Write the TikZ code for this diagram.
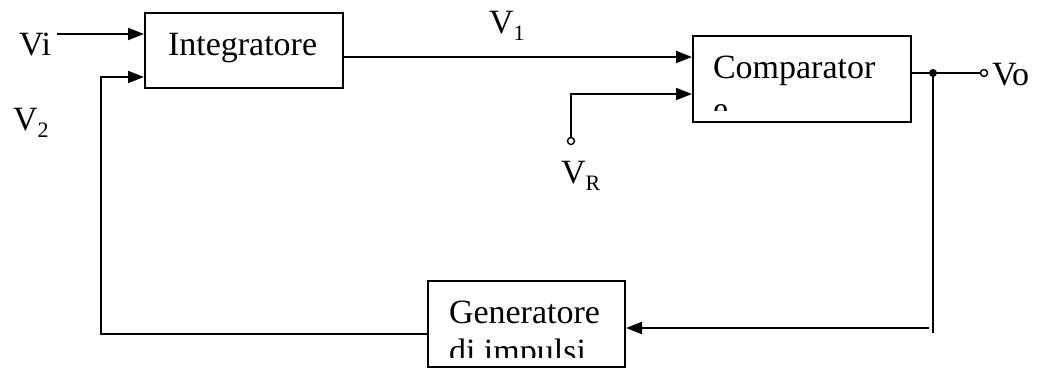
\documentclass[tikz,border=0pt]{standalone}
\usepackage{fontspec}
\setmainfont{Liberation Serif}
\usetikzlibrary{arrows.meta}
\newcommand{\lowsub}[1]{\raisebox{-7pt}{\fontsize{22}{22}\selectfont #1}}
\begin{document}
\begin{tikzpicture}[x=1pt,y=-1pt,line width=2pt,
  blk/.style={draw,line width=2pt,inner sep=0pt,anchor=north west},
  lbl/.style={inner sep=0pt,anchor=base west,font=\fontsize{34}{40}\selectfont},
  arr/.style={-{Triangle[length=16pt,width=12pt]}},
  opendot/.style={circle,draw,fill=white,line width=1.4pt,inner sep=0pt,minimum size=7pt},
  fulldot/.style={circle,fill=black,inner sep=0pt,minimum size=8pt}]
\useasboundingbox (0,0) rectangle (1038,367);
% blocks
\node[blk,minimum width=198pt,minimum height=75pt] (integ) at (144,12) {};
\node[blk,minimum width=218pt,minimum height=86pt] (comp) at (692,35) {};
\node[blk,minimum width=197pt,minimum height=86pt] (gen) at (427,280) {};
% block texts
\node[lbl] (tinteg) at (167,55) {Integratore};
\begin{scope}
\clip (692,35) rectangle (910,110);
\node[lbl] (tcomp1) at (712,78) {Comparator};
\node[lbl] (tcomp2) at (712,120) {e};
\end{scope}
\begin{scope}
\clip (427,280) rectangle (624,357);
\node[lbl] (tgen1) at (448,323) {Generatore};
\node[lbl] (tgen2) at (448,362) {di impulsi};
\end{scope}
% labels
\node[lbl] (lvi) at (18,55) {Vi};
\node[lbl] (lv1) at (488,33) {V\lowsub{1}};
\node[lbl] (lv2) at (12,130) {V\lowsub{2}};
\node[lbl] (lvr) at (560,183) {V\lowsub{R}};
\node[lbl] (lvo) at (991,85) {Vo};
% coordinates
\coordinate (vi) at (57,34);
\coordinate (v1a) at (342,57);
\coordinate (vrturn) at (571,94);
\coordinate (fbl) at (101,334);
\coordinate (in2) at (144,77);
\coordinate (oute) at (910,73);
\node[fulldot] (junc) at (933,73) {};
\node[opendot] (vo) at (984,73) {};
\node[opendot] (vr) at (571,141) {};
\coordinate (brv) at (933,333);
\coordinate (bra) at (929,328);
% connectors
\draw[arr] (vi) -- (vi -| integ.west);
\draw[arr] (v1a) -- (v1a -| comp.west);
\draw[arr] (vr.north) -- (vrturn) -- (vrturn -| comp.west);
\draw (oute) -- (junc.center) -- (vo.west);
\draw (junc.center) -- (brv);
\draw[arr] (bra) -- (bra -| gen.east);
\draw[arr] (gen.west |- fbl) -- (fbl) -- (fbl |- in2) -- (in2);
\end{tikzpicture}
\end{document}
